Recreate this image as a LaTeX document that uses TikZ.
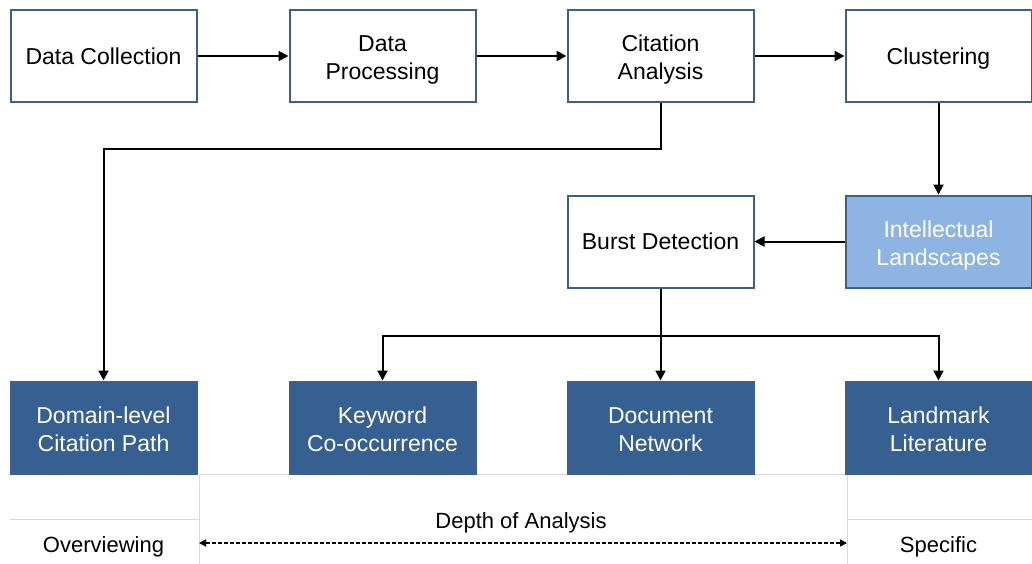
\documentclass[tikz,border=0pt]{standalone}
\usepackage{fontspec}
\setmainfont{Liberation Sans}
\usetikzlibrary{arrows.meta,positioning}
\definecolor{bordc}{HTML}{3C5F91}
\definecolor{darkb}{HTML}{376092}
\definecolor{lightb}{HTML}{8EB4E3}
\definecolor{gridc}{HTML}{D9D9D9}
\newcommand{\nd}[1]{\raisebox{0pt}[\height][0pt]{#1}}
\newcommand{\fl}{\rule{0pt}{19.8pt}}
\tikzset{
  box/.style={draw=bordc, line width=2pt, minimum width=186pt, minimum height=92pt, inner sep=0pt, align=center, font=\fontsize{23}{28}\selectfont},
  wbox/.style={box, fill=white, text=black},
  dbox/.style={box, fill=darkb, text=white},
  lbox/.style={box, fill=lightb, text=white},
  conn/.style={line width=2pt, -{Triangle[length=10pt,width=10pt]}},
  lbl/.style={font=\fontsize{22}{26}\selectfont, inner sep=0pt}
}
\begin{document}
\begin{tikzpicture}[x=1pt,y=-1pt]
\useasboundingbox (0,0) rectangle (1032,564);
% faint grid lines
\draw[gridc, line width=1pt] (199,564) -- (199,474) -- (847,474) -- (847,564);
\draw[gridc, line width=1pt] (10,519) -- (199,519);
\draw[gridc, line width=1pt] (847,519) -- (1032,519);
% row 1
\node[wbox] (dc) at (103.5,56) {\nd{Data Collection}};
\node[wbox] (dp) at (382.5,56) {\fl Data\\\nd{Processing}};
\node[wbox] (ca) at (660.5,56) {\fl Citation\\\nd{Analysis}};
\node[wbox] (cl) at (938.5,56) {\nd{Clustering}};
% row 2
\node[wbox] (bd) at (660.5,241.5) {\nd{Burst Detection}};
\node[lbox] (il) at (938.5,241.5) {\fl Intellectual\\\nd{Landscapes}};
% row 3
\node[dbox] (dl) at (103.5,427.5) {\fl Domain-level\\\nd{Citation Path}};
\node[dbox] (kc) at (382.5,427.5) {\fl Keyword\\\nd{Co-occurrence}};
\node[dbox] (dn) at (660.5,427.5) {\fl Document\\\nd{Network}};
\node[dbox] (ll) at (938.5,427.5) {\fl Landmark\\\nd{Literature}};
% connectors
\draw[conn] (dc) -- (dp);
\draw[conn] (dp) -- (ca);
\draw[conn] (ca) -- (cl);
\draw[conn] (ca.south) -- ++(0,46) -| (dl.north);
\draw[conn] (cl) -- (il);
\draw[conn] (il) -- (bd);
\coordinate (jn) at (660.5,336);
\draw[line width=2pt] (bd.south) -- (jn);
\draw[conn] (jn) -| (kc.north);
\draw[conn] (jn) -| (ll.north);
\draw[conn] (jn) -- (dn.north);
% bottom labels
\node[lbl] (ov) at (103.5,547) {Overviewing};
\node[lbl] (sp) at (938.5,547) {Specific};
\node[lbl] (da) at (521,523) {Depth of Analysis};
\coordinate (al) at (199,543);
\coordinate (ar) at (847,543);
\draw[line width=1.5pt, dash pattern=on 4pt off 2pt, {Triangle[length=7pt,width=7pt]}-{Triangle[length=7pt,width=7pt]}] (al) -- (ar);
\end{tikzpicture}
\end{document}
